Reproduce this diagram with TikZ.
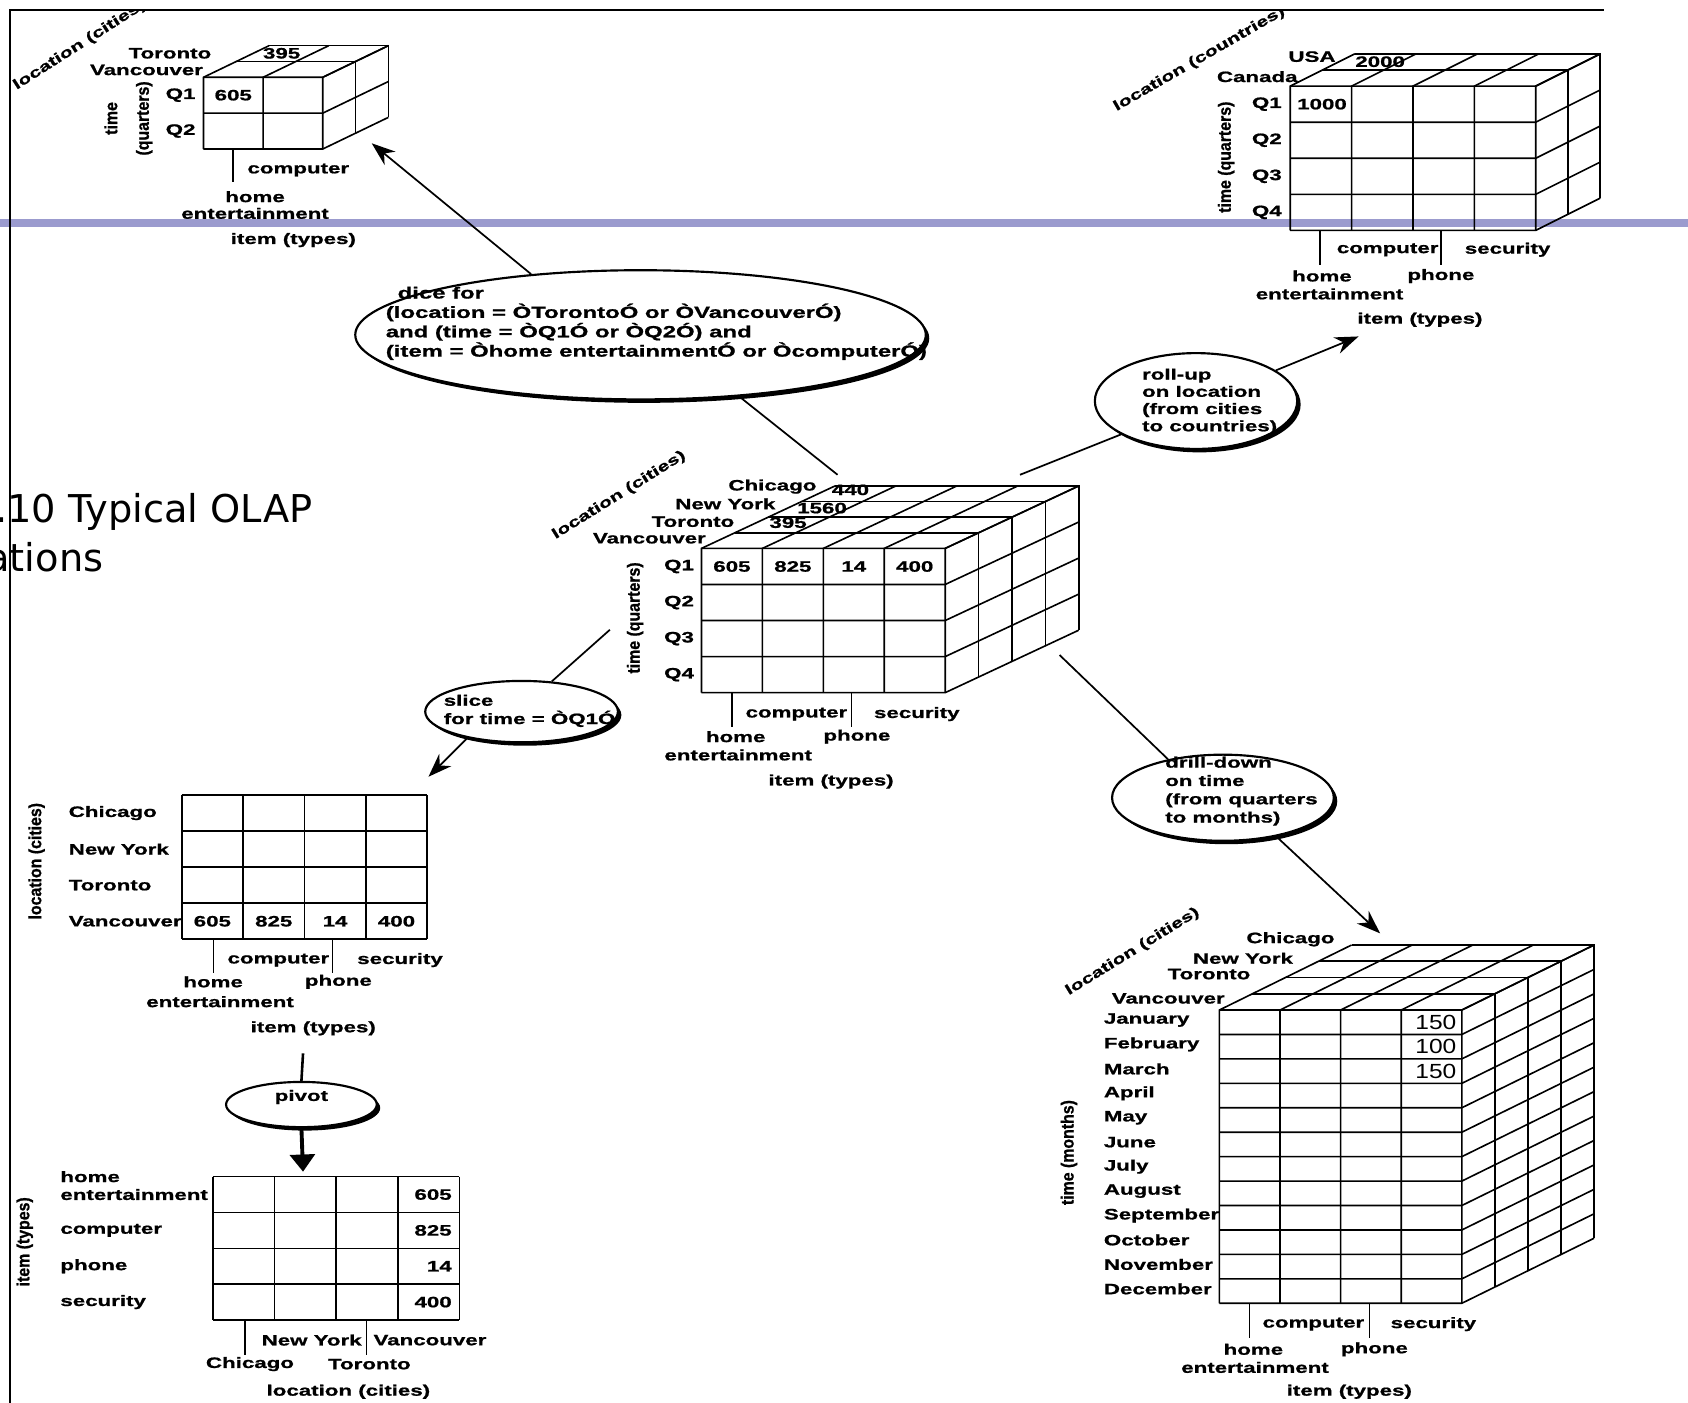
\documentclass[tikz,border=0pt]{standalone}
\usepackage{fontspec}
\usetikzlibrary{arrows.meta,shapes.geometric,shadows}
\newfontfamily\olapfont{Liberation Sans}[FakeStretch=1.48,FakeBold=1]
\newfontfamily\olapthin{Liberation Sans}[FakeStretch=1.2]
\newfontfamily\olapnarrow{Liberation Sans}[FakeStretch=0.9,FakeBold=1]
\newfontfamily\slidefont{DejaVu Sans}
\definecolor{slidebar}{RGB}{155,155,206}
\tikzset{
	cubeline/.style={line width=0.75pt},
	lbl/.style={font=\olapfont\bfseries\fontsize{7}{8}\selectfont, inner sep=0pt},
	slantlbl/.style={font=\olapfont\bfseries\fontsize{6.6}{8}\selectfont, inner sep=0pt},
	vlbl/.style={font=\olapnarrow\bfseries\fontsize{8.2}{9}\selectfont, inner sep=0pt, rotate=90},
	bignum/.style={font=\olapthin\fontsize{9.5}{10}\selectfont, inner sep=0pt, anchor=east},
	bubble/.style={ellipse, draw, line width=1pt, fill=white, inner sep=0pt,
			drop shadow={shadow xshift=1.6pt, shadow yshift=-1.6pt, fill=black, opacity=1}},
	bubbletext/.style={lbl, align=left, anchor=north west},
	conn/.style={line width=0.8pt},
	flow/.style={conn, -{Stealth[length=11pt,width=8pt]}},
	slidetext/.style={font=\slidefont\fontsize{17.8}{20}\selectfont, inner sep=0pt, anchor=base west}
}
% cube: cols, rows, layers, cell width, cell height, layer dx, layer dy
\newcommand{\olapcube}[7]{%
	\pgfmathsetmacro{\cubew}{#1*#4}
	\pgfmathsetmacro{\cubeh}{#2*#5}
	\foreach \i in {0,...,#1}
		\draw[cubeline] (\i*#4,\cubeh) -- (\i*#4,0) -- ++(#3*#6,-#3*#7);
	\foreach \j in {0,...,#2}
		\draw[cubeline] (0,\j*#5) -- (\cubew,\j*#5) -- ++(#3*#6,-#3*#7);
	\foreach \k in {1,...,#3}
		\draw[cubeline] (\k*#6,-\k*#7) -- ++(\cubew,0) -- ++(0,\cubeh);
}
% flat table: cols, rows, cell width, cell height
\newcommand{\olaptable}[4]{%
	\foreach \i in {0,...,#1}
		\draw[cubeline] (\i*#3,0) -- (\i*#3,#2*#4);
	\foreach \j in {0,...,#2}
		\draw[cubeline] (0,\j*#4) -- (#1*#3,\j*#4);
}

\begin{document}
\begin{tikzpicture}[x=0.5pt, y=-0.5pt]
	\useasboundingbox (0,0) rectangle (1568,1303);
	% slide
	\fill[slidebar] (0,203) rectangle (1568,211);
	\draw[line width=0.8pt] (9,1303) -- (9,9) -- (1490,9);
	\node[slidetext] (title1) at (-5,485) {.10 Typical OLAP};
	\node[slidetext] (title2) at (-13,531) {ations};

	\begin{scope}
		\clip (9,10) rectangle (1568,1303);

		% dice result
		\begin{scope}[shift={(189,71.8)}]
			\olapcube{2}{2}{2}{55.4}{33.3}{30.5}{14.7}
		\end{scope}
		\node[slantlbl, rotate=32.6] (d-loc) at (74,42) {location (cities)};
		\node[lbl, anchor=east] (d-tor) at (196.6,49.5) {Toronto};
		\node[lbl] (d-395) at (261.6,49.5) {395};
		\node[lbl, anchor=east] (d-van) at (188.9,65) {Vancouver};
		\node[lbl, anchor=east] (d-q1) at (182,88.4) {Q1};
		\node[lbl] (d-605) at (216.7,88.4) {605};
		\node[lbl, anchor=east] (d-q2) at (182,121.7) {Q2};
		\node[vlbl] (d-time) at (103,110) {time};
		\node[vlbl] (d-quart) at (134,110) {(quarters)};
		\draw[cubeline] (216.7,138.4) -- (216.7,168.8);
		\node[lbl] (d-comp) at (277.1,157.9) {computer};
		\node[lbl] (d-home) at (236.9,182.7) {home};
		\node[lbl] (d-ent) at (236.9,198.2) {entertainment};
		\node[lbl] (d-item) at (272.5,223) {item (types)};

		% roll-up result
		\begin{scope}[shift={(1198.5,80)}]
			\olapcube{4}{4}{2}{57}{33.5}{30}{15}
		\end{scope}
		\node[slantlbl, rotate=30] (r-loc) at (1114,55) {location (countries)};
		\node[lbl, anchor=east] (r-usa) at (1241,52.6) {USA};
		\node[lbl] (r-2000) at (1282,57.3) {2000};
		\node[lbl, anchor=east] (r-can) at (1205.7,71.2) {Canada};
		\foreach \q [count=\j from 0] in {Q1,Q2,Q3,Q4}
			\node[lbl, anchor=east] (r-q\j) at (1191,96.75+33.5*\j) {\q};
		\node[lbl] (r-1000) at (1228,96.75) {1000};
		\node[vlbl] (r-time) at (1139,146) {time (quarters)};
		\draw[cubeline] (1226.3,214) -- (1226.3,246);
		\draw[cubeline] (1338.5,214) -- (1338.5,246);
		\node[lbl] (r-comp) at (1289,232) {computer};
		\node[lbl] (r-sec) at (1400.4,232) {security};
		\node[lbl] (r-home) at (1228,256.4) {home};
		\node[lbl] (r-phone) at (1338.5,256.4) {phone};
		\node[lbl] (r-ent) at (1235,273) {entertainment};
		\node[lbl] (r-item) at (1319,297) {item (types)};

		% base cube
		\begin{scope}[shift={(651.6,509.4)}]
			\olapcube{4}{4}{4}{56.6}{33.5}{31}{14.5}
		\end{scope}
		\node[slantlbl, rotate=32] (c-loc) at (575,460) {location (cities)};
		\node[lbl, anchor=east] (c-chi) at (758.8,452) {Chicago};
		\node[lbl] (c-440) at (790,455) {440};
		\node[lbl, anchor=east] (c-ny) at (720.6,468) {New York};
		\node[lbl] (c-1560) at (763.6,472) {1560};
		\node[lbl, anchor=east] (c-tor) at (682.4,484.6) {Toronto};
		\node[lbl] (c-395) at (732,485.5) {395};
		\node[lbl, anchor=east] (c-van) at (656,500) {Vancouver};
		\foreach \q [count=\j from 0] in {Q1,Q2,Q3,Q4}
			\node[lbl, anchor=east] (c-q\j) at (645,526.2+33.5*\j) {\q};
		\foreach \v [count=\i from 0] in {605,825,14,400}
			\node[lbl] (c-v\i) at (679.9+56.6*\i,526.2) {\v};
		\node[vlbl] (c-time) at (590,574) {time (quarters)};
		\draw[cubeline] (680,643.4) -- (680,675);
		\draw[cubeline] (791,643.4) -- (791,675);
		\node[lbl] (c-comp) at (739.8,663.3) {computer};
		\node[lbl] (c-sec) at (851.6,663.3) {security};
		\node[lbl] (c-home) at (683.4,684.3) {home};
		\node[lbl] (c-phone) at (796,684.3) {phone};
		\node[lbl] (c-ent) at (685.7,701.3) {entertainment};
		\node[lbl] (c-item) at (772,726) {item (types)};

		% drill-down result
		\begin{scope}[shift={(1132.7,938.2)}]
			\olapcube{4}{12}{4}{56.3}{22.7}{30.7}{15.1}
		\end{scope}
		\node[slantlbl, rotate=31.7] (m-loc) at (1052,884) {location (cities)};
		\node[lbl, anchor=east] (m-chi) at (1240,872.5) {Chicago};
		\node[lbl, anchor=east] (m-ny) at (1201.4,890.2) {New York};
		\node[lbl, anchor=east] (m-tor) at (1161.8,904.8) {Toronto};
		\node[lbl, anchor=east] (m-van) at (1138,927.4) {Vancouver};
		\foreach \m [count=\j from 0] in {January,February,March,April,May,June,July,August,September,October,November,December}
			\node[lbl, anchor=west] (m-\j) at (1025,947.5+22.7*\j) {\m};
		\foreach \v [count=\j from 0] in {150,100,150}
			\node[bignum] (m-v\j) at (1353.2,949.5+22.7*\j) {\v};
		\node[vlbl] (m-time) at (993,1070.6) {time (months)};
		\draw[cubeline] (1160.5,1210.7) -- (1160.5,1243.2);
		\draw[cubeline] (1272,1210.7) -- (1272,1243.2);
		\node[lbl] (m-comp) at (1220,1230) {computer};
		\node[lbl] (m-sec) at (1331.5,1230) {security};
		\node[lbl] (m-home) at (1164.3,1253.4) {home};
		\node[lbl] (m-phone) at (1276.7,1253.4) {phone};
		\node[lbl] (m-ent) at (1165.8,1270.2) {entertainment};
		\node[lbl] (m-item) at (1253.4,1292.8) {item (types)};

		% slice result
		\begin{scope}[shift={(168.8,738.5)}]
			\olaptable{4}{4}{57}{33.5}
		\end{scope}
		\foreach \c [count=\j from 0] in {Chicago,New York,Toronto,Vancouver}
			\node[lbl, anchor=west] (s-r\j) at (63.5,755.25+33.5*\j) {\c};
		\foreach \v [count=\i from 0] in {605,825,14,400}
			\node[lbl] (s-v\i) at (197.3+57*\i,855.75) {\v};
		\node[vlbl] (s-loc) at (34,800) {location (cities)};
		\draw[cubeline] (198.2,872.5) -- (198.2,904);
		\draw[cubeline] (308.7,872.5) -- (308.7,904);
		\node[lbl] (s-comp) at (258.6,891.8) {computer};
		\node[lbl] (s-sec) at (371.6,891.8) {security};
		\node[lbl] (s-home) at (198,912) {home};
		\node[lbl] (s-phone) at (314.3,912) {phone};
		\node[lbl] (s-ent) at (204.4,930.5) {entertainment};
		\node[lbl] (s-item) at (291,955.2) {item (types)};

		% pivot result
		\begin{scope}[shift={(197.6,1093)}]
			\olaptable{4}{4}{57.3}{33.3}
		\end{scope}
		\node[lbl, anchor=west] (p-home) at (55.7,1093) {home};
		\foreach \t [count=\j from 0] in {entertainment,computer,phone,security}
			\node[lbl, anchor=west] (p-r\j) at (55.7,1109.6+33.3*\j) {\t};
		\foreach \v [count=\j from 0] in {605,825,14,400}
			\node[lbl, anchor=east] (p-v\j) at (420,1109.6+33.3*\j) {\v};
		\node[vlbl] (p-item) at (23,1153.5) {item (types)};
		\draw[cubeline] (227.6,1226.2) -- (227.6,1258.7);
		\draw[cubeline] (340.6,1226.2) -- (340.6,1258.7);
		\node[lbl] (p-ny) at (289.5,1244.8) {New York};
		\node[lbl] (p-van) at (399.4,1244.8) {Vancouver};
		\node[lbl] (p-chi) at (232.2,1267.1) {Chicago};
		\node[lbl] (p-tor) at (343.1,1267.1) {Toronto};
		\node[lbl] (p-loc) at (323.6,1292.8) {location (cities)};

		% operations
		\node[bubble, minimum width=265pt, minimum height=60pt] (dice) at (595,311) {};
		\node[bubbletext, font=\olapfont\bfseries\fontsize{7.5}{9}\selectfont] (dice-txt) at (358,266)
			{\hspace*{5.5pt}dice for\\(location = ÒTorontoÓ or ÒVancouverÓ)\\and (time = ÒQ1Ó or ÒQ2Ó) and\\(item = Òhome entertainmentÓ or ÒcomputerÓ)};
		\node[bubble, minimum width=94pt, minimum height=44.5pt] (rollup) at (1111,372.5) {};
		\node[bubbletext, font=\olapfont\bfseries\fontsize{7}{8}\selectfont] (rollup-txt) at (1060.5,342)
			{roll-up\\on location\\(from cities\\to countries)};
		\node[bubble, minimum width=89.5pt, minimum height=28.5pt] (slice) at (484.5,661) {};
		\node[bubbletext, font=\olapfont\bfseries\fontsize{7}{8.5}\selectfont] (slice-txt) at (411.8,645)
			{slice\\for time = ÒQ1Ó};
		\node[bubble, minimum width=103pt, minimum height=40pt] (drill) at (1136,741) {};
		\node[bubbletext, font=\olapfont\bfseries\fontsize{7}{8.5}\selectfont] (drill-txt) at (1082,702.5)
			{drill-down\\on time\\(from quarters\\to months)};
		\node[bubble, minimum width=70pt, minimum height=21pt] (pivot) at (280,1026) {};
		\node[lbl] (pivot-txt) at (280,1019) {pivot};

		% connectors
		\coordinate (c-topL) at (778,441);
		\coordinate (c-topR) at (947.5,441);
		\coordinate (c-left) at (566.5,585);
		\coordinate (c-right) at (984.3,608.5);
		\coordinate (d-tip) at (345.3,133.1);
		\coordinate (r-tip) at (1262,312.5);
		\coordinate (s-tip) at (398,721.5);
		\coordinate (m-tip) at (1282,867);
		\coordinate (s-foot) at (281.5,978.5);
		\coordinate (p-tip) at (281.5,1088.4);

		\draw[conn] (c-topL) -- (dice.-32);
		\draw[flow] (dice.151) -- (d-tip);
		\draw[conn] (c-topR) -- (rollup.204.5);
		\draw[flow] (rollup.21) -- (r-tip);
		\draw[conn] (c-left) -- (slice.45.7);
		\draw[flow] (slice.206.7) -- (s-tip);
		\draw[conn] (c-right) -- (drill.145);
		\draw[flow] (drill.-36) -- (m-tip);
		\draw[line width=1.2pt] (s-foot) -- (pivot.north);
		\draw[line width=1.8pt, -{Triangle[length=8pt,width=11.5pt]}] (pivot.south) -- (p-tip);
	\end{scope}
\end{tikzpicture}
\end{document}
